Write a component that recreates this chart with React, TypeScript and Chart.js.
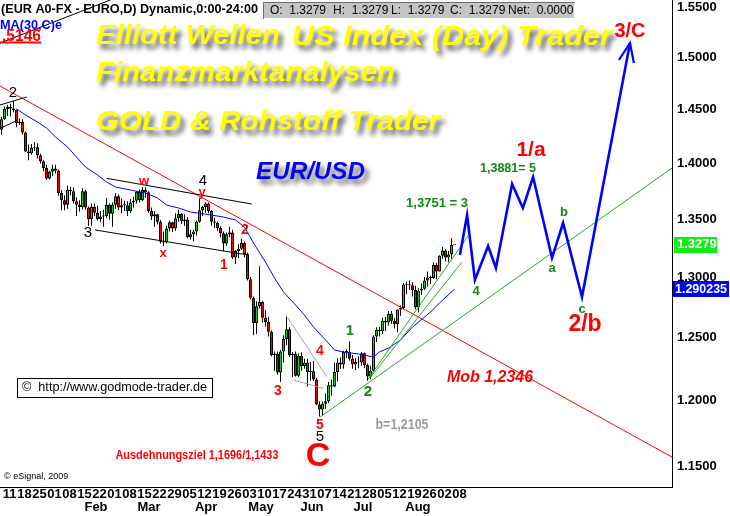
import React, { useEffect, useRef } from 'react';
import { Chart, registerables } from 'chart.js';

Chart.register(...registerables);

const FONT = '"Liberation Sans", Arial, sans-serif';

// ---- daily EUR/USD candles (bar index 0 = 8 Jan) ----
const openP = [
  1.4310, 1.4410, 1.4505, 1.4525, 1.4510, 1.4495, 1.4375, 1.4385, 1.4285, 1.4110, 1.4095, 1.4145, 1.4150, 1.4075, 1.4020, 1.3960,
  1.3865, 1.3925, 1.3955, 1.3935, 1.3735, 1.3670, 1.3630, 1.3760, 1.3750, 1.3660, 1.3630, 1.3610, 1.3750, 1.3605, 1.3505, 1.3610, 1.3560, 1.3505, 1.3525, 1.3530,
  1.3630, 1.3550, 1.3630, 1.3705, 1.3605, 1.3625, 1.3625, 1.3575, 1.3650, 1.3665, 1.3745, 1.3670, 1.3760, 1.3740, 1.3575, 1.3525, 1.3545, 1.3480, 1.3305, 1.3300, 1.3420, 1.3475, 1.3420,
  1.3510, 1.3550, 1.3485, 1.3500, 1.3345, 1.3370, 1.3395, 1.3480, 1.3580, 1.3610, 1.3640, 1.3575, 1.3480, 1.3470, 1.3425, 1.3380, 1.3290, 1.3370, 1.3385, 1.3170, 1.3225, 1.3245,
  1.3295, 1.3200, 1.2985, 1.2830, 1.2620, 1.2760, 1.2795, 1.2665, 1.2630, 1.2550, 1.2360, 1.2370, 1.2220, 1.2390, 1.2490, 1.2570, 1.2360, 1.2370, 1.2195, 1.2355, 1.2270,
  1.2300, 1.2225, 1.2230, 1.2165, 1.1970, 1.1930, 1.1975, 1.1995, 1.2120, 1.2110, 1.2225, 1.2300, 1.2285, 1.2385, 1.2385, 1.2330, 1.2285, 1.2305, 1.2300, 1.2375, 1.2280, 1.2190,
  1.2235, 1.2510, 1.2565, 1.2555, 1.2640, 1.2625, 1.2695, 1.2640, 1.2610, 1.2730, 1.2745, 1.2940, 1.2935, 1.2935, 1.2895, 1.2750, 1.2890, 1.2905, 1.2975, 1.3000, 1.2995, 1.3105,
  1.3050, 1.3185, 1.3230, 1.3170, 1.3195, 1.3279,
];
const highP = [
  1.4430, 1.4530, 1.4545, 1.4555, 1.4580, 1.4500, 1.4415, 1.4410, 1.4295, 1.4175, 1.4180, 1.4195, 1.4185, 1.4090, 1.4030, 1.3990,
  1.3935, 1.3990, 1.3990, 1.3945, 1.3760, 1.3715, 1.3800, 1.3790, 1.3785, 1.3695, 1.3670, 1.3775, 1.3760, 1.3615, 1.3640, 1.3640, 1.3620, 1.3575, 1.3585, 1.3690,
  1.3640, 1.3650, 1.3735, 1.3720, 1.3685, 1.3665, 1.3660, 1.3680, 1.3700, 1.3750, 1.3765, 1.3785, 1.3785, 1.3750, 1.3605, 1.3575, 1.3550, 1.3495, 1.3395, 1.3445, 1.3490, 1.3480, 1.3555,
  1.3585, 1.3555, 1.3545, 1.3520, 1.3410, 1.3410, 1.3490, 1.3692, 1.3620, 1.3650, 1.3650, 1.3580, 1.3515, 1.3480, 1.3440, 1.3395, 1.3385, 1.3435, 1.3410, 1.3235, 1.3285, 1.3330,
  1.3305, 1.3210, 1.3005, 1.2840, 1.2800, 1.3095, 1.2805, 1.2725, 1.2670, 1.2560, 1.2390, 1.2390, 1.2400, 1.2520, 1.2675, 1.2585, 1.2385, 1.2390, 1.2375, 1.2380, 1.2330,
  1.2330, 1.2305, 1.2315, 1.2180, 1.1995, 1.1995, 1.2055, 1.2145, 1.2165, 1.2300, 1.2335, 1.2340, 1.2395, 1.2405, 1.2470, 1.2360, 1.2335, 1.2350, 1.2385, 1.2380, 1.2290, 1.2275,
  1.2520, 1.2585, 1.2590, 1.2665, 1.2670, 1.2720, 1.2720, 1.2660, 1.2735, 1.2765, 1.2955, 1.2965, 1.2975, 1.2960, 1.2930, 1.2910, 1.2950, 1.3005, 1.3050, 1.3015, 1.3130, 1.3125,
  1.3190, 1.3260, 1.3240, 1.3225, 1.3335, 1.3279,
];
const lowP = [
  1.4265, 1.4405, 1.4440, 1.4435, 1.4475, 1.4335, 1.4355, 1.4265, 1.4105, 1.4030, 1.4080, 1.4115, 1.4045, 1.4000, 1.3930, 1.3850,
  1.3855, 1.3885, 1.3910, 1.3710, 1.3580, 1.3580, 1.3595, 1.3715, 1.3640, 1.3530, 1.3570, 1.3590, 1.3585, 1.3445, 1.3445, 1.3530, 1.3490, 1.3475, 1.3435, 1.3510,
  1.3500, 1.3435, 1.3595, 1.3580, 1.3555, 1.3575, 1.3530, 1.3560, 1.3605, 1.3640, 1.3650, 1.3660, 1.3695, 1.3560, 1.3495, 1.3435, 1.3455, 1.3290, 1.3267, 1.3290, 1.3395, 1.3390, 1.3400,
  1.3480, 1.3460, 1.3445, 1.3335, 1.3325, 1.3310, 1.3360, 1.3470, 1.3530, 1.3560, 1.3555, 1.3445, 1.3425, 1.3400, 1.3345, 1.3225, 1.3270, 1.3345, 1.3160, 1.3115, 1.3165, 1.3235,
  1.3170, 1.2975, 1.2815, 1.2520, 1.2530, 1.2740, 1.2625, 1.2590, 1.2510, 1.2350, 1.2235, 1.2205, 1.2145, 1.2300, 1.2440, 1.2345, 1.2185, 1.2190, 1.2185, 1.2235, 1.2250,
  1.2110, 1.2155, 1.2155, 1.1965, 1.1876, 1.1880, 1.1935, 1.1980, 1.2040, 1.2105, 1.2150, 1.2250, 1.2250, 1.2335, 1.2315, 1.2250, 1.2240, 1.2255, 1.2275, 1.2255, 1.2155, 1.2165,
  1.2225, 1.2465, 1.2510, 1.2530, 1.2555, 1.2600, 1.2615, 1.2575, 1.2545, 1.2680, 1.2735, 1.2860, 1.2895, 1.2840, 1.2735, 1.2710, 1.2855, 1.2895, 1.2925, 1.2945, 1.2990, 1.2985,
  1.3050, 1.3160, 1.3135, 1.3130, 1.3160, 1.3279,
];
const closeP = [
  1.4410, 1.4505, 1.4525, 1.4510, 1.4495, 1.4375, 1.4385, 1.4285, 1.4110, 1.4095, 1.4145, 1.4150, 1.4075, 1.4020, 1.3960, 1.3865,
  1.3925, 1.3955, 1.3935, 1.3735, 1.3670, 1.3630, 1.3760, 1.3750, 1.3660, 1.3630, 1.3610, 1.3750, 1.3605, 1.3505, 1.3610, 1.3560, 1.3505, 1.3525, 1.3530, 1.3630,
  1.3550, 1.3630, 1.3705, 1.3605, 1.3625, 1.3625, 1.3575, 1.3650, 1.3665, 1.3745, 1.3670, 1.3760, 1.3740, 1.3575, 1.3525, 1.3545, 1.3480, 1.3305, 1.3300, 1.3420, 1.3475, 1.3420, 1.3510,
  1.3550, 1.3485, 1.3500, 1.3345, 1.3370, 1.3395, 1.3480, 1.3580, 1.3610, 1.3640, 1.3575, 1.3480, 1.3470, 1.3425, 1.3380, 1.3290, 1.3370, 1.3385, 1.3170, 1.3225, 1.3245, 1.3295,
  1.3200, 1.2985, 1.2830, 1.2620, 1.2760, 1.2795, 1.2665, 1.2630, 1.2550, 1.2360, 1.2370, 1.2220, 1.2390, 1.2490, 1.2570, 1.2360, 1.2370, 1.2195, 1.2355, 1.2270, 1.2300,
  1.2225, 1.2230, 1.2165, 1.1970, 1.1930, 1.1975, 1.1995, 1.2120, 1.2110, 1.2225, 1.2300, 1.2285, 1.2385, 1.2385, 1.2330, 1.2285, 1.2305, 1.2300, 1.2375, 1.2280, 1.2190, 1.2235,
  1.2510, 1.2565, 1.2555, 1.2640, 1.2625, 1.2695, 1.2640, 1.2610, 1.2730, 1.2745, 1.2940, 1.2935, 1.2935, 1.2895, 1.2750, 1.2890, 1.2905, 1.2975, 1.3000, 1.2995, 1.3105, 1.3050,
  1.3185, 1.3230, 1.3170, 1.3195, 1.3280, 1.3279,
];

// ---- axis labels ----
const weekTickIdx = [1, 6, 11, 16, 21, 26, 31, 36, 41, 46, 51, 56, 61, 66, 71, 76, 81, 86, 91, 96, 101, 106, 111, 116, 121, 126, 131, 136, 141, 146, 151];
const weekTickLabels = ['11', '18', '25', '01', '08', '15', '22', '01', '08', '15', '22', '29', '05', '12', '19', '26', '03', '10', '17', '24', '31', '07', '14', '21', '28', '05', '12', '19', '26', '02', '08'];
const monthLabels = ['Feb', 'Mar', 'Apr', 'May', 'Jun', 'Jul', 'Aug'];
const monthLabelIdx = [31.5, 49.2, 68.2, 86.5, 103.5, 120.5, 138.8];
const yTickValues = [1.15, 1.2, 1.25, 1.3, 1.35, 1.4, 1.45, 1.5, 1.55];

// ---- MA(30,C) ----
const maIdx = [5, 8, 12, 15, 18, 22, 25, 28, 32, 35, 38, 43, 48, 52, 55, 59, 63, 70, 74, 78, 81, 84, 88, 91, 94, 98, 101, 104, 108, 111, 114, 119, 124, 126, 129, 133, 137, 143, 146, 151];
const maVal = [1.4505, 1.4449, 1.4383, 1.4327, 1.4244, 1.4151, 1.4059, 1.3968, 1.3896, 1.3833, 1.3788, 1.3761, 1.3734, 1.3690, 1.3627, 1.3601, 1.3565, 1.3539, 1.3521, 1.3495, 1.3434, 1.3295, 1.3131, 1.2995, 1.2878, 1.2769, 1.2686, 1.2588, 1.2482, 1.2401, 1.2385, 1.2369, 1.2345, 1.2385, 1.2417, 1.2482, 1.2588, 1.2711, 1.2786, 1.2902];

// ---- Elliott projection path ----
const projIdx = [152.8, 155.2, 157.8, 162.2, 164.8, 170.2, 173.8, 177.2, 183.5, 187.2, 193.5, 209.5];
const projVal = [1.3191, 1.3539, 1.2979, 1.3269, 1.3080, 1.3815, 1.3601, 1.3878, 1.3166, 1.3469, 1.2836, 1.5141];
const arrowIdx = [205.8, 209.5, 210.8];
const arrowVal = [1.4975, 1.5141, 1.4946];

// ---- trend lines (index, price) ----
const redTrendIdx = [-0.5, 223.5];
const redTrendVal = [1.4724, 1.1567];
const greenLongIdx = [106.2, 223.5];
const greenLongVal = [1.1872, 1.3959];
const greenSteepAIdx = [122.2, 155.5];
const greenSteepAVal = [1.2169, 1.3355];
const greenSteepBIdx = [122.8, 153.5];
const greenSteepBVal = [1.2177, 1.3131];
const chanUpIdx = [35.1, 83.4];
const chanUpVal = [1.3866, 1.3636];
const chanLoIdx = [31.2, 82.3];
const chanLoVal = [1.3408, 1.3191];
const wedgeUpIdx = [-0.5, 8.4];
const wedgeUpVal = [1.4543, 1.4619];
const wedgeLoIdx = [-0.5, 5.6];
const wedgeLoVal = [1.4324, 1.4402];
const titleLineIdx = [-0.5, 40.2];
const titleLineVal = [1.5141, 1.5618];
const level1546Idx = [-0.5, 13.2];
const level1546Val = [1.5146, 1.5146];
const grayAIdx = [95.4, 108.4];
const grayAVal = [1.2664, 1.2188];
const grayBIdx = [97.3, 107.3];
const grayBVal = [1.2161, 1.2096];

const lastPrice = 1.3279;
const maLast = 1.290235;

const pts = (xs: number[], ys: number[]) => xs.map((x, i) => ({ x, y: ys[i] }));

type Ann = {
  t: string; x: number; y: number; font: string; color: string;
  align?: 'left' | 'center' | 'right'; w?: number; shadow?: boolean;
};

function drawText(ctx: CanvasRenderingContext2D, a: Ann) {
  ctx.save();
  ctx.font = a.font;
  ctx.fillStyle = a.color;
  ctx.textBaseline = 'middle';
  ctx.textAlign = 'left';
  const mw = ctx.measureText(a.t).width;
  const sx = a.w ? a.w / mw : 1;
  const dw = mw * sx;
  let x0 = a.x;
  if (a.align === 'center') x0 = a.x - dw / 2;
  else if (a.align === 'right') x0 = a.x - dw;
  if (a.shadow) {
    ctx.shadowColor = 'rgba(40,40,40,0.75)';
    ctx.shadowBlur = 5;
    ctx.shadowOffsetX = 4;
    ctx.shadowOffsetY = 5;
  }
  ctx.translate(x0, a.y);
  ctx.scale(sx, 1);
  ctx.fillText(a.t, 0, 0);
  ctx.restore();
}

const RED = '#ff0000';
const GRN = '#118811';
const BLK = '#000000';

const annotations: Ann[] = [
  { t: '(EUR A0-FX - EURO,D) Dynamic,0:00-24:00', x: 1, y: 9, font: `bold 13px ${FONT}`, color: BLK, w: 257 },
  { t: 'MA(30,C)e', x: 0, y: 25, font: `bold 13px ${FONT}`, color: '#0000ff', w: 62 },
  { t: '.5146', x: 2, y: 36, font: `bold 17px ${FONT}`, color: RED, w: 39 },
  { t: 'Elliott Wellen', x: 96, y: 36, font: `italic bold 28px ${FONT}`, color: '#ffff00', w: 184, shadow: true },
  { t: 'US Index (Day) Trader', x: 292, y: 37, font: `italic bold 28px ${FONT}`, color: '#ffff00', w: 320, shadow: true },
  { t: 'Finanzmarktanalysen', x: 96, y: 73, font: `italic bold 28px ${FONT}`, color: '#ffff00', w: 299, shadow: true },
  { t: 'GOLD & Rohstoff Trader', x: 96, y: 122, font: `italic bold 28px ${FONT}`, color: '#ffff00', w: 344, shadow: true },
  { t: 'EUR/USD', x: 256, y: 172, font: `italic bold 24px ${FONT}`, color: '#0000ff', w: 109, shadow: true },
  // black wave labels
  { t: '2', x: 13, y: 93, font: `15px ${FONT}`, color: BLK, align: 'center' },
  { t: '3', x: 88, y: 233, font: `15px ${FONT}`, color: BLK, align: 'center' },
  { t: '4', x: 203, y: 181, font: `15px ${FONT}`, color: BLK, align: 'center' },
  { t: '5', x: 320, y: 437, font: `15px ${FONT}`, color: BLK, align: 'center' },
  // red wave labels
  { t: 'w', x: 144, y: 181, font: `bold 13px ${FONT}`, color: RED, align: 'center' },
  { t: 'x', x: 163, y: 253, font: `bold 13px ${FONT}`, color: RED, align: 'center' },
  { t: 'y', x: 202, y: 192, font: `bold 13px ${FONT}`, color: RED, align: 'center' },
  { t: '1', x: 224, y: 265, font: `bold 14px ${FONT}`, color: RED, align: 'center' },
  { t: '2', x: 245, y: 230, font: `bold 14px ${FONT}`, color: RED, align: 'center' },
  { t: '3', x: 278, y: 391, font: `bold 14px ${FONT}`, color: RED, align: 'center' },
  { t: '4', x: 320, y: 351, font: `bold 14px ${FONT}`, color: RED, align: 'center' },
  { t: '5', x: 320, y: 425, font: `bold 14px ${FONT}`, color: RED, align: 'center' },
  // green wave labels
  { t: '1', x: 350, y: 331, font: `bold 15px ${FONT}`, color: GRN, align: 'center' },
  { t: '2', x: 368, y: 392, font: `bold 15px ${FONT}`, color: GRN, align: 'center' },
  { t: '1,3751 = 3', x: 437, y: 203, font: `bold 13px ${FONT}`, color: GRN, align: 'center', w: 62 },
  { t: '1,3881= 5', x: 508, y: 168, font: `bold 13px ${FONT}`, color: GRN, align: 'center', w: 56 },
  { t: '4', x: 476, y: 291, font: `bold 13px ${FONT}`, color: GRN, align: 'center' },
  { t: 'a', x: 552, y: 268, font: `bold 13px ${FONT}`, color: GRN, align: 'center' },
  { t: 'b', x: 564, y: 212, font: `bold 13px ${FONT}`, color: GRN, align: 'center' },
  { t: 'c', x: 582, y: 309, font: `bold 13px ${FONT}`, color: GRN, align: 'center' },
  // big red labels
  { t: '1/a', x: 531, y: 150, font: `bold 21px ${FONT}`, color: RED, align: 'center' },
  { t: '2/b', x: 585, y: 325, font: `bold 23px ${FONT}`, color: RED, align: 'center' },
  { t: '3/C', x: 630, y: 31, font: `bold 20px ${FONT}`, color: RED, align: 'center' },
  { t: 'C', x: 318, y: 457, font: `bold 34px ${FONT}`, color: RED, align: 'center' },
  { t: 'b=1,2105', x: 402, y: 425, font: `bold 14px ${FONT}`, color: '#9a9a9a', align: 'center', w: 53 },
  { t: 'Mob 1,2346', x: 490, y: 378, font: `italic bold 16px ${FONT}`, color: RED, align: 'center', w: 86 },
  { t: 'Ausdehnungsziel 1,1696/1,1433', x: 197, y: 456, font: `bold 12px ${FONT}`, color: RED, align: 'center', w: 163 },
  { t: '\u00a9 eSignal, 2009', x: 4, y: 477, font: `9px ${FONT}`, color: BLK },
];

const overlayPlugin = {
  id: 'overlay',
  afterDraw(chart: any) {
    const ctx: CanvasRenderingContext2D = chart.ctx;
    const xs = chart.scales.x;
    const ys = chart.scales.y;
    ctx.save();

    // month labels under the day labels
    monthLabels.forEach((m, k) =>
      drawText(ctx, { t: m, x: xs.getPixelForValue(monthLabelIdx[k]), y: 507, font: `bold 13px ${FONT}`, color: BLK, align: 'center' })
    );

    // O/H/L/C box
    ctx.fillStyle = '#c4c4c4';
    ctx.fillRect(263, 2, 312, 17);
    ctx.strokeStyle = '#6e6e6e';
    ctx.lineWidth = 1;
    ctx.beginPath();
    ctx.moveTo(263.5, 19); ctx.lineTo(263.5, 2.5); ctx.lineTo(575, 2.5);
    ctx.stroke();
    ctx.strokeStyle = '#ffffff';
    ctx.beginPath();
    ctx.moveTo(264, 18.5); ctx.lineTo(574.5, 18.5); ctx.lineTo(574.5, 3);
    ctx.stroke();
    const ohlc: [string, number][] = [['O:  1.3279', 270], ['H:  1.3279', 333], ['L:  1.3279', 391], ['C:  1.3279', 450], ['Net:  0.0000', 508]];
    ohlc.forEach(([t, x]) => drawText(ctx, { t, x, y: 11, font: `12px ${FONT}`, color: BLK }));

    // red underline for the 1.5146 label is a dataset; annotations
    annotations.forEach((a) => drawText(ctx, a));

    // godmode box
    ctx.fillStyle = '#ffffff';
    ctx.fillRect(17, 378, 195, 19);
    ctx.strokeStyle = '#000000';
    ctx.strokeRect(17.5, 378.5, 195, 19);
    drawText(ctx, { t: '\u00a9  http://www.godmode-trader.de', x: 22, y: 388, font: `12px ${FONT}`, color: BLK, w: 185 });

    // price boxes on the axis
    const yl = ys.getPixelForValue(lastPrice);
    ctx.fillStyle = '#11ee11';
    ctx.fillRect(674, Math.round(yl) - 8, 43, 16);
    drawText(ctx, { t: '1.3279', x: 677, y: yl, font: `bold 13px ${FONT}`, color: '#ffffff' });
    const ym = ys.getPixelForValue(maLast);
    ctx.fillStyle = '#0000ff';
    ctx.fillRect(673, Math.round(ym) - 8, 56, 16);
    drawText(ctx, { t: '1.290235', x: 675, y: ym, font: `bold 13px ${FONT}`, color: '#ffffff', w: 52 });

    ctx.restore();
  },
};

export default function App() {
  const ref = useRef<HTMLCanvasElement | null>(null);

  useEffect(() => {
    if (!ref.current) return;
    const bodies = openP.map((o, i) => {
      const c = closeP[i];
      return { x: i, y: [Math.min(o, c), Math.max(o, c)] };
    });
    const bodyColors = openP.map((o, i) => (closeP[i] > o ? '#00dd00' : closeP[i] < o ? '#ff0000' : '#000000'));
    const wicks = highP.map((h, i) => ({ x: i, y: [lowP[i], h] }));

    const line = (data: any[], color: string, width = 1, extra: any = {}) => ({
      type: 'line' as const,
      data,
      borderColor: color,
      borderWidth: width,
      pointRadius: 0,
      tension: 0,
      fill: false,
      ...extra,
    });

    const chart = new Chart(ref.current, {
      type: 'bar',
      data: {
        datasets: [
          line(pts(projIdx, projVal), '#0000ff', 2.6),
          line(pts(arrowIdx, arrowVal), '#0000ff', 2.2),
          line(pts(level1546Idx, level1546Val), '#ff0000', 2),
          line(pts(titleLineIdx, titleLineVal), '#000000', 1),
          line(pts(wedgeUpIdx, wedgeUpVal), '#000000', 1),
          line(pts(wedgeLoIdx, wedgeLoVal), '#000000', 1),
          line(pts(chanUpIdx, chanUpVal), '#000000', 1),
          line(pts(chanLoIdx, chanLoVal), '#000000', 1),
          line(pts(grayAIdx, grayAVal), '#a0a0a0', 1),
          line(pts(grayBIdx, grayBVal), '#a0a0a0', 1),
          line(pts(greenLongIdx, greenLongVal), '#22aa22', 1),
          line(pts(greenSteepAIdx, greenSteepAVal), '#22aa22', 1),
          line(pts(greenSteepBIdx, greenSteepBVal), '#22aa22', 1),
          line(pts(redTrendIdx, redTrendVal), '#ff0000', 1),
          line(pts(maIdx, maVal), '#0000ff', 1),
          {
            type: 'bar',
            data: bodies as any,
            backgroundColor: bodyColors,
            borderColor: '#000000',
            borderWidth: 1,
            borderSkipped: false,
            barThickness: 3,
            minBarLength: 1,
            grouped: false,
            inflateAmount: 0,
          } as any,
          {
            type: 'bar',
            data: wicks as any,
            backgroundColor: '#000000',
            borderWidth: 0,
            barThickness: 1,
            grouped: false,
            inflateAmount: 0,
          } as any,
        ],
      },
      options: {
        animation: false,
        responsive: false,
        devicePixelRatio: 1,
        events: [],
        layout: { padding: 0 },
        plugins: { legend: { display: false }, tooltip: { enabled: false }, title: { display: false } },
        scales: {
          x: {
            type: 'linear',
            position: 'bottom',
            min: -0.5,
            max: 223.5,
            offset: false,
            grid: { display: false, drawTicks: false },
            border: { display: true, color: '#000000', width: 1 },
            afterBuildTicks: (s: any) => {
              s.ticks = weekTickIdx.map((v) => ({ value: v }));
            },
            afterFit: (s: any) => {
              s.height = 29;
              s.paddingLeft = 0;
              s.paddingRight = 0;
            },
            ticks: {
              autoSkip: false,
              maxRotation: 0,
              minRotation: 0,
              padding: 0,
              labelOffset: 5,
              color: '#000000',
              font: { family: 'Liberation Sans', size: 13, weight: 'bold' },
              callback: (_v: any, i: number) => weekTickLabels[i],
            },
          },
          y: {
            type: 'logarithmic',
            position: 'right',
            min: 1.1344,
            max: 1.5571,
            grid: { display: false, drawTicks: false },
            border: { display: true, color: '#000000', width: 1 },
            afterBuildTicks: (s: any) => {
              s.ticks = yTickValues.map((v) => ({ value: v }));
            },
            afterFit: (s: any) => {
              s.width = 58;
              s.paddingTop = 0;
              s.paddingBottom = 0;
            },
            ticks: {
              padding: 5,
              color: '#000000',
              font: { family: 'Liberation Sans', size: 13, weight: 'bold' },
              callback: (v: any) => Number(v).toFixed(4),
            },
          },
        },
      },
      plugins: [overlayPlugin],
    } as any);

    return () => chart.destroy();
  }, []);

  return (
    <div style={{ position: 'absolute', left: 0, top: 0, width: 730, height: 516, background: '#ffffff' }}>
      <canvas ref={ref} width={730} height={516} style={{ display: 'block', width: 730, height: 516 }} />
    </div>
  );
}
